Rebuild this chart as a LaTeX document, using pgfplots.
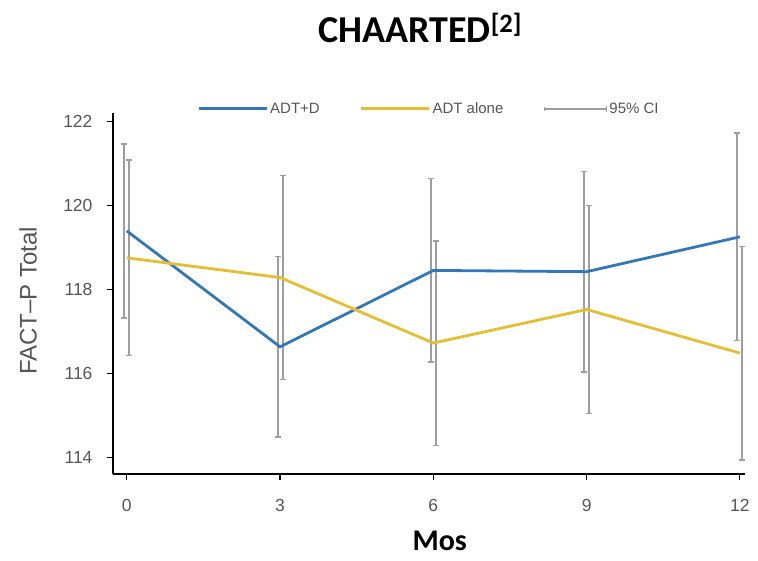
\documentclass[border=0pt]{standalone}
\usepackage{pgfplots}
\pgfplotsset{compat=1.18}
\usepackage{fontspec}
\setmainfont{Liberation Sans}
\newfontfamily\carlito{Carlito}
\definecolor{cblue}{RGB}{52,118,184}
\definecolor{cyel}{RGB}{228,190,52}
\definecolor{cgray}{RGB}{158,158,158}
\definecolor{tgray}{RGB}{85,85,85}
\begin{document}
\begin{tikzpicture}[x=1pt,y=1pt]
\path[use as bounding box] (0,0) rectangle (758,560);
\begin{axis}[
  at={(113pt,86pt)}, anchor=south west,
  scale only axis, width=632pt, height=361pt,
  xmin=-0.27, xmax=12.1, ymin=113.6, ymax=122.2,
  axis x line=bottom, axis y line=left,
  axis line style={-, line width=2.4pt, black},
  xtick={0,3,6,9,12}, ytick={114,116,118,120,122},
  tick style={black, line width=1.2pt},
  tick align=outside, major tick length=6pt,
  /pgf/number format/assume math mode=true,
  ticklabel style={font=\fontsize{17.5}{20}\selectfont, text=tgray},
  xticklabel style={yshift=-16pt},
  yticklabel style={xshift=-11pt},
  title={\carlito\bfseries CHAARTED\textsuperscript{[2]}},
  title style={at={(0.486,1)}, anchor=base, yshift=65pt, font=\fontsize{38}{42}\selectfont},
  xlabel={\carlito\bfseries Mos},
  xlabel style={at={(axis description cs:0.517,0)}, anchor=base, yshift=-76pt, font=\fontsize{30}{34}\selectfont},
  ylabel={FACT--P Total},
  ylabel style={at={(axis description cs:-0.1345,0.48)}, anchor=center, font=\fontsize{24}{28}\selectfont, text=tgray},
  legend columns=3,
  legend style={at={(0.5,1.012)}, anchor=center, draw=none, fill=none,
    font=\fontsize{15}{17}\selectfont, text=tgray,
    /tikz/every even column/.append style={column sep=38pt}},
  legend image code/.code={\draw[#1] (0pt,0pt) -- (68pt,0pt);},
  clip=false,
]
% 95% CI bars (blue series, left)
\addplot[forget plot, draw=none, mark=none,
  error bars/.cd, y dir=both, y explicit,
  error bar style={cgray, line width=2pt},
  error mark options={cgray, rotate=90, mark size=3pt, line width=1.4pt}]
  table[x=x, y=y, y error=e] {
  x y e
  -0.05 119.39 2.07
  2.95 116.63 2.15
  5.95 118.45 2.185
  8.95 118.42 2.39
  11.95 119.25 2.47
};
% 95% CI bars (yellow series, right)
\addplot[forget plot, draw=none, mark=none,
  error bars/.cd, y dir=both, y explicit,
  error bar style={cgray, line width=2pt},
  error mark options={cgray, rotate=90, mark size=3pt, line width=1.4pt}]
  table[x=x, y=y, y error=e] {
  x y e
  0.05 118.75 2.33
  3.05 118.28 2.425
  6.05 116.72 2.435
  9.05 117.52 2.48
  12.05 116.48 2.545
};
\addplot[cblue, line width=2.8pt, mark=none] coordinates {
  (0,119.39) (3,116.63) (6,118.45) (9,118.42) (12,119.25)};
\addlegendentry{ADT+D}
\addplot[cyel, line width=2.8pt, mark=none] coordinates {
  (0,118.75) (3,118.28) (6,116.72) (9,117.52) (12,116.48)};
\addlegendentry{ADT alone}
\addlegendimage{legend image code/.code={\draw[cgray, line width=2pt] (0pt,0pt) -- (62pt,0pt); \draw[cgray, line width=1.4pt] (62pt,-3pt) -- (62pt,3pt); \draw[cgray, line width=1.4pt] (0pt,-2pt) -- (0pt,2pt);}}
\addlegendentry{95\% CI}
\end{axis}
\end{tikzpicture}
\end{document}
